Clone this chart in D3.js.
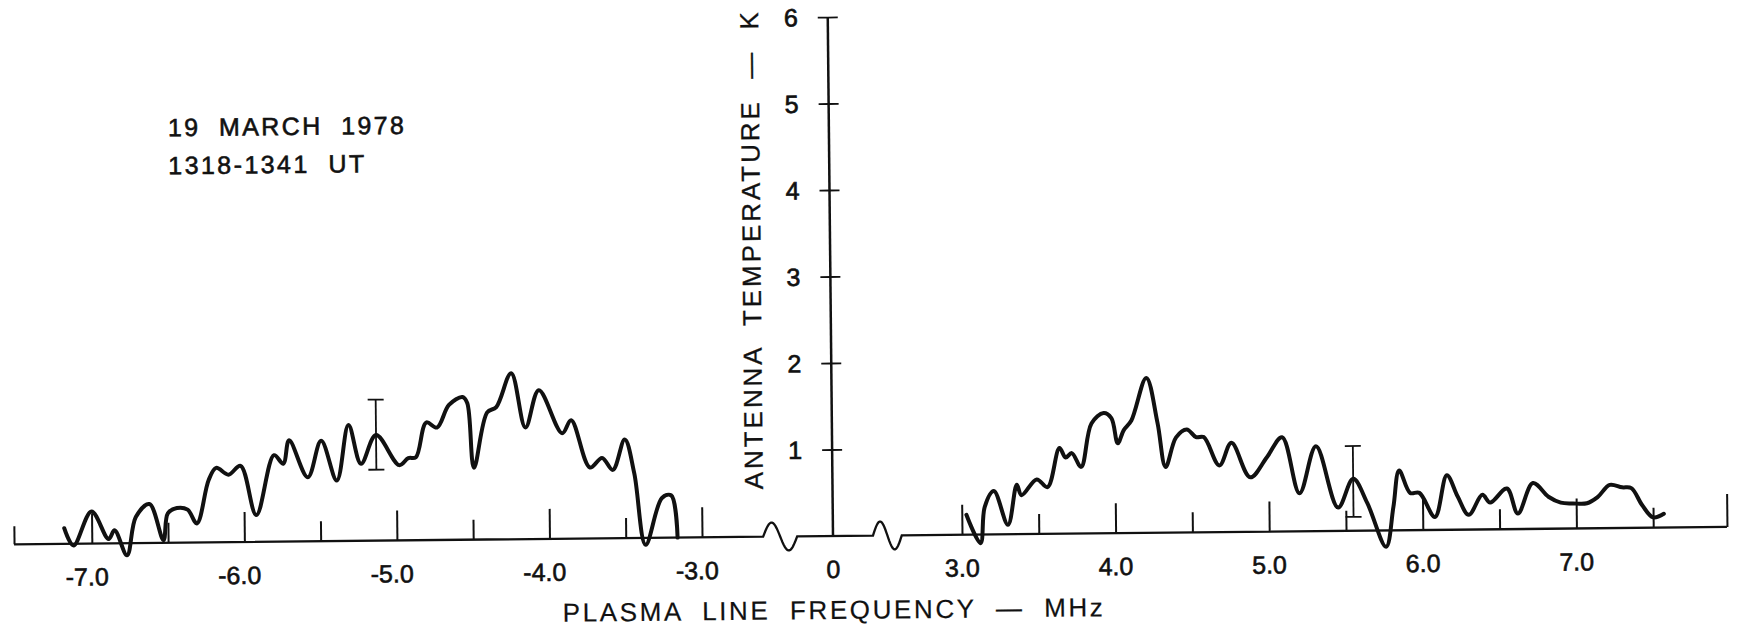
<!DOCTYPE html>
<html><head><meta charset="utf-8">
<script src="https://cdn.jsdelivr.net/npm/d3@7"></script>
<style>html,body{margin:0;padding:0;background:#fff;} svg{display:block;}</style>
</head><body>
<svg id="chart" width="1740" height="634"></svg>
<script>
// ---- data ----
const leftFreq = [-7.18,-7.12,-7.00,-6.89,-6.85,-6.77,-6.71,-6.62,-6.53,-6.50,-6.44,-6.37,-6.31,-6.23,-6.18,-6.10,-6.02,-5.92,-5.80,-5.74,-5.70,-5.58,-5.49,-5.39,-5.31,-5.23,-5.13,-4.98,-4.92,-4.87,-4.80,-4.73,-4.65,-4.56,-4.53,-4.49,-4.40,-4.34,-4.24,-4.15,-4.06,-3.91,-3.85,-3.73,-3.65,-3.58,-3.50,-3.44,-3.37,-3.26,-3.20,-3.16];
const leftTemp = [0.18,-0.02,0.37,0.05,0.15,-0.14,0.30,0.45,0.03,0.34,0.40,0.38,0.22,0.72,0.86,0.78,0.88,0.31,1.00,0.90,1.17,0.74,1.16,0.70,1.34,0.89,1.22,0.87,0.95,0.96,1.36,1.30,1.56,1.65,1.58,0.83,1.47,1.53,1.92,1.29,1.72,1.22,1.37,0.82,0.93,0.79,1.14,0.75,-0.08,0.46,0.49,0.0];
const rightFreq = [3.03,3.12,3.15,3.21,3.30,3.36,3.39,3.49,3.56,3.64,3.68,3.72,3.78,3.85,3.93,3.98,4.02,4.06,4.11,4.21,4.28,4.33,4.40,4.47,4.53,4.58,4.68,4.76,4.88,4.99,5.09,5.20,5.31,5.45,5.55,5.64,5.76,5.81,5.85,5.92,5.98,6.08,6.16,6.23,6.30,6.39,6.44,6.55,6.62,6.72,6.82,6.90,6.98,7.07,7.14,7.22,7.30,7.36,7.43,7.50,7.57];
const rightTemp = [0.23,-0.10,0.32,0.50,0.11,0.57,0.45,0.63,0.54,0.99,0.88,0.93,0.77,1.27,1.39,1.33,1.04,1.19,1.30,1.79,1.27,0.76,1.10,1.19,1.10,1.10,0.77,1.03,0.63,0.86,1.09,0.44,0.98,0.27,0.60,0.32,-0.19,0.27,0.69,0.43,0.43,0.15,0.63,0.38,0.17,0.40,0.31,0.47,0.18,0.53,0.37,0.30,0.29,0.29,0.36,0.50,0.47,0.46,0.26,0.12,0.16];
const errFreq = [-5.13, 5.55];
const errLow = [0.82, 0.16];
const errHigh = [1.63, 0.98];
const majorTicks = [-7,-6,-5,-4,-3,3,4,5,6,7];
const minorTicks = [-6.5,-5.5,-4.5,-3.5,3.5,4.5,5.5,6.5,7.5];
const endTicks = [-7.51, 7.98];
const xLabelValues = [-7,-6,-5,-4,-3,0,3,4,5,6,7];
const xLabelTexts = ["-7.0","-6.0","-5.0","-4.0","-3.0","0","3.0","4.0","5.0","6.0","7.0"];
const yTickValues = [1,2,3,4,5,6];
const yTickTexts = ["1","2","3","4","5","6"];
const axisBreaks = [[-1.60,-0.82],[0.93,1.60]];
const dateLines = ["19  MARCH  1978","1318-1341  UT"];

// ---- scales ----
const FONT = "'Liberation Sans', Arial, Helvetica, sans-serif";
const svg = d3.select("#chart");
svg.append("rect").attr("width",1740).attr("height",634).attr("fill","#fff");
const x = d3.scaleLinear().domain([-7.51,-3,0,3,7.98]).range([14,702,833,962,1727]);
const y = d3.scaleLinear().domain([0,6]).range([536,17]);
const g = svg.append("g").attr("transform", `rotate(-0.58, ${x(0)}, ${y(0)})`);
const ink = "#111";

// ---- x axis baseline with break wiggles ----
const basePts = [];
basePts.push([x(endTicks[0]), y(0)]);
axisBreaks.forEach(([a,b]) => {
  const xa = x(a), xb = x(b);
  for (let i = 0; i <= 30; i++) {
    const t = i/30;
    basePts.push([xa + (xb-xa)*t, y(0) - 14*Math.sin(2*Math.PI*t)]);
  }
});
basePts.push([x(endTicks[1]), y(0)]);
g.append("path").attr("d", d3.line().curve(d3.curveLinear)(basePts))
  .attr("fill","none").attr("stroke",ink).attr("stroke-width",2.3);

const bottomAxis = (vals, size) => {
  const ax = g.append("g").attr("transform",`translate(0,${y(0)})`)
    .call(d3.axisTop(x).tickValues(vals).tickSize(size).tickSizeOuter(0).tickFormat(""));
  ax.select(".domain").remove();
  ax.selectAll("line").attr("stroke",ink).attr("stroke-width",2);
};
bottomAxis(majorTicks, 30);
bottomAxis(minorTicks, 20);
bottomAxis([endTicks[0]], 18);
bottomAxis([endTicks[1]], 33);

g.selectAll("text.xl").data(xLabelValues).join("text").attr("class","xl")
  .attr("x", (d) => x(d) + (d < 0 ? -5 : 0)).attr("y", 578)
  .attr("text-anchor","middle").attr("font-family",FONT).attr("font-size",25)
  .attr("fill",ink).attr("stroke",ink).attr("stroke-width",0.6)
  .text((d,i) => xLabelTexts[i]);

// ---- y axis ----
const yAxG = g.append("g").attr("transform",`translate(${x(0)},0)`);
yAxG.append("line").attr("x1",0).attr("x2",0).attr("y1",y(0)).attr("y2",y(6))
  .attr("stroke",ink).attr("stroke-width",2.5);
const ya1 = yAxG.append("g").call(d3.axisLeft(y).tickValues(yTickValues).tickSize(10).tickSizeOuter(0).tickFormat(""));
const ya2 = yAxG.append("g").call(d3.axisRight(y).tickValues(yTickValues).tickSize(10).tickSizeOuter(0).tickFormat(""));
[ya1, ya2].forEach(a => { a.select(".domain").remove(); a.selectAll("line").attr("stroke",ink).attr("stroke-width",1.8); });
g.selectAll("text.yl").data(yTickValues).join("text").attr("class","yl")
  .attr("x", x(0) - 37).attr("y", d => y(d)).attr("dy","0.36em")
  .attr("text-anchor","middle").attr("font-family",FONT).attr("font-size",25)
  .attr("fill",ink).attr("stroke",ink).attr("stroke-width",0.7)
  .text((d,i) => yTickTexts[i]);

// ---- axis titles ----
g.append("text").attr("transform","translate(754,250) rotate(-90)")
  .attr("dy","0.36em").attr("text-anchor","middle").attr("font-family",FONT).attr("font-size",26)
  .attr("fill",ink).attr("stroke",ink).attr("stroke-width",0.3)
  .attr("textLength",477).attr("lengthAdjust","spacing")
  .style("white-space","pre").text("ANTENNA  TEMPERATURE  —  K");
g.append("text").attr("x",832).attr("y",619)
  .attr("text-anchor","middle").attr("font-family",FONT).attr("font-size",26)
  .attr("fill",ink).attr("stroke",ink).attr("stroke-width",0.2)
  .attr("textLength",540).attr("lengthAdjust","spacing")
  .style("white-space","pre").text("PLASMA  LINE  FREQUENCY  —  MHz");

// ---- annotation ----
const dateLens = [236, 196];
g.selectAll("text.dl").data(dateLines).join("text").attr("class","dl")
  .attr("x",172).attr("y",(d,i) => 129.5 + 38*i)
  .attr("font-family",FONT).attr("font-size",25).attr("fill",ink)
  .attr("stroke",ink).attr("stroke-width",0.6)
  .attr("textLength",(d,i) => dateLens[i]).attr("lengthAdjust","spacing")
  .style("white-space","pre").text(d => d);

// ---- curves ----
const line = d3.line().x(d => x(d[0])).y(d => y(d[1])).curve(d3.curveCatmullRom.alpha(0.5));
const leftData = leftFreq.map((f,i) => [f, leftTemp[i]]);
const rightData = rightFreq.map((f,i) => [f, rightTemp[i]]);
[leftData, rightData].forEach(d => {
  g.append("path").attr("d", line(d)).attr("fill","none").attr("stroke",ink)
    .attr("stroke-width",4).attr("stroke-linejoin","round").attr("stroke-linecap","round");
});

// ---- error bars ----
errFreq.forEach((f,i) => {
  const eb = g.append("g").attr("stroke",ink).attr("stroke-width",1.8);
  eb.append("line").attr("x1",x(f)).attr("x2",x(f)).attr("y1",y(errLow[i])).attr("y2",y(errHigh[i]));
  eb.append("line").attr("x1",x(f)-8).attr("x2",x(f)+8).attr("y1",y(errLow[i])).attr("y2",y(errLow[i]));
  eb.append("line").attr("x1",x(f)-8).attr("x2",x(f)+8).attr("y1",y(errHigh[i])).attr("y2",y(errHigh[i]));
});
</script>
</body></html>
